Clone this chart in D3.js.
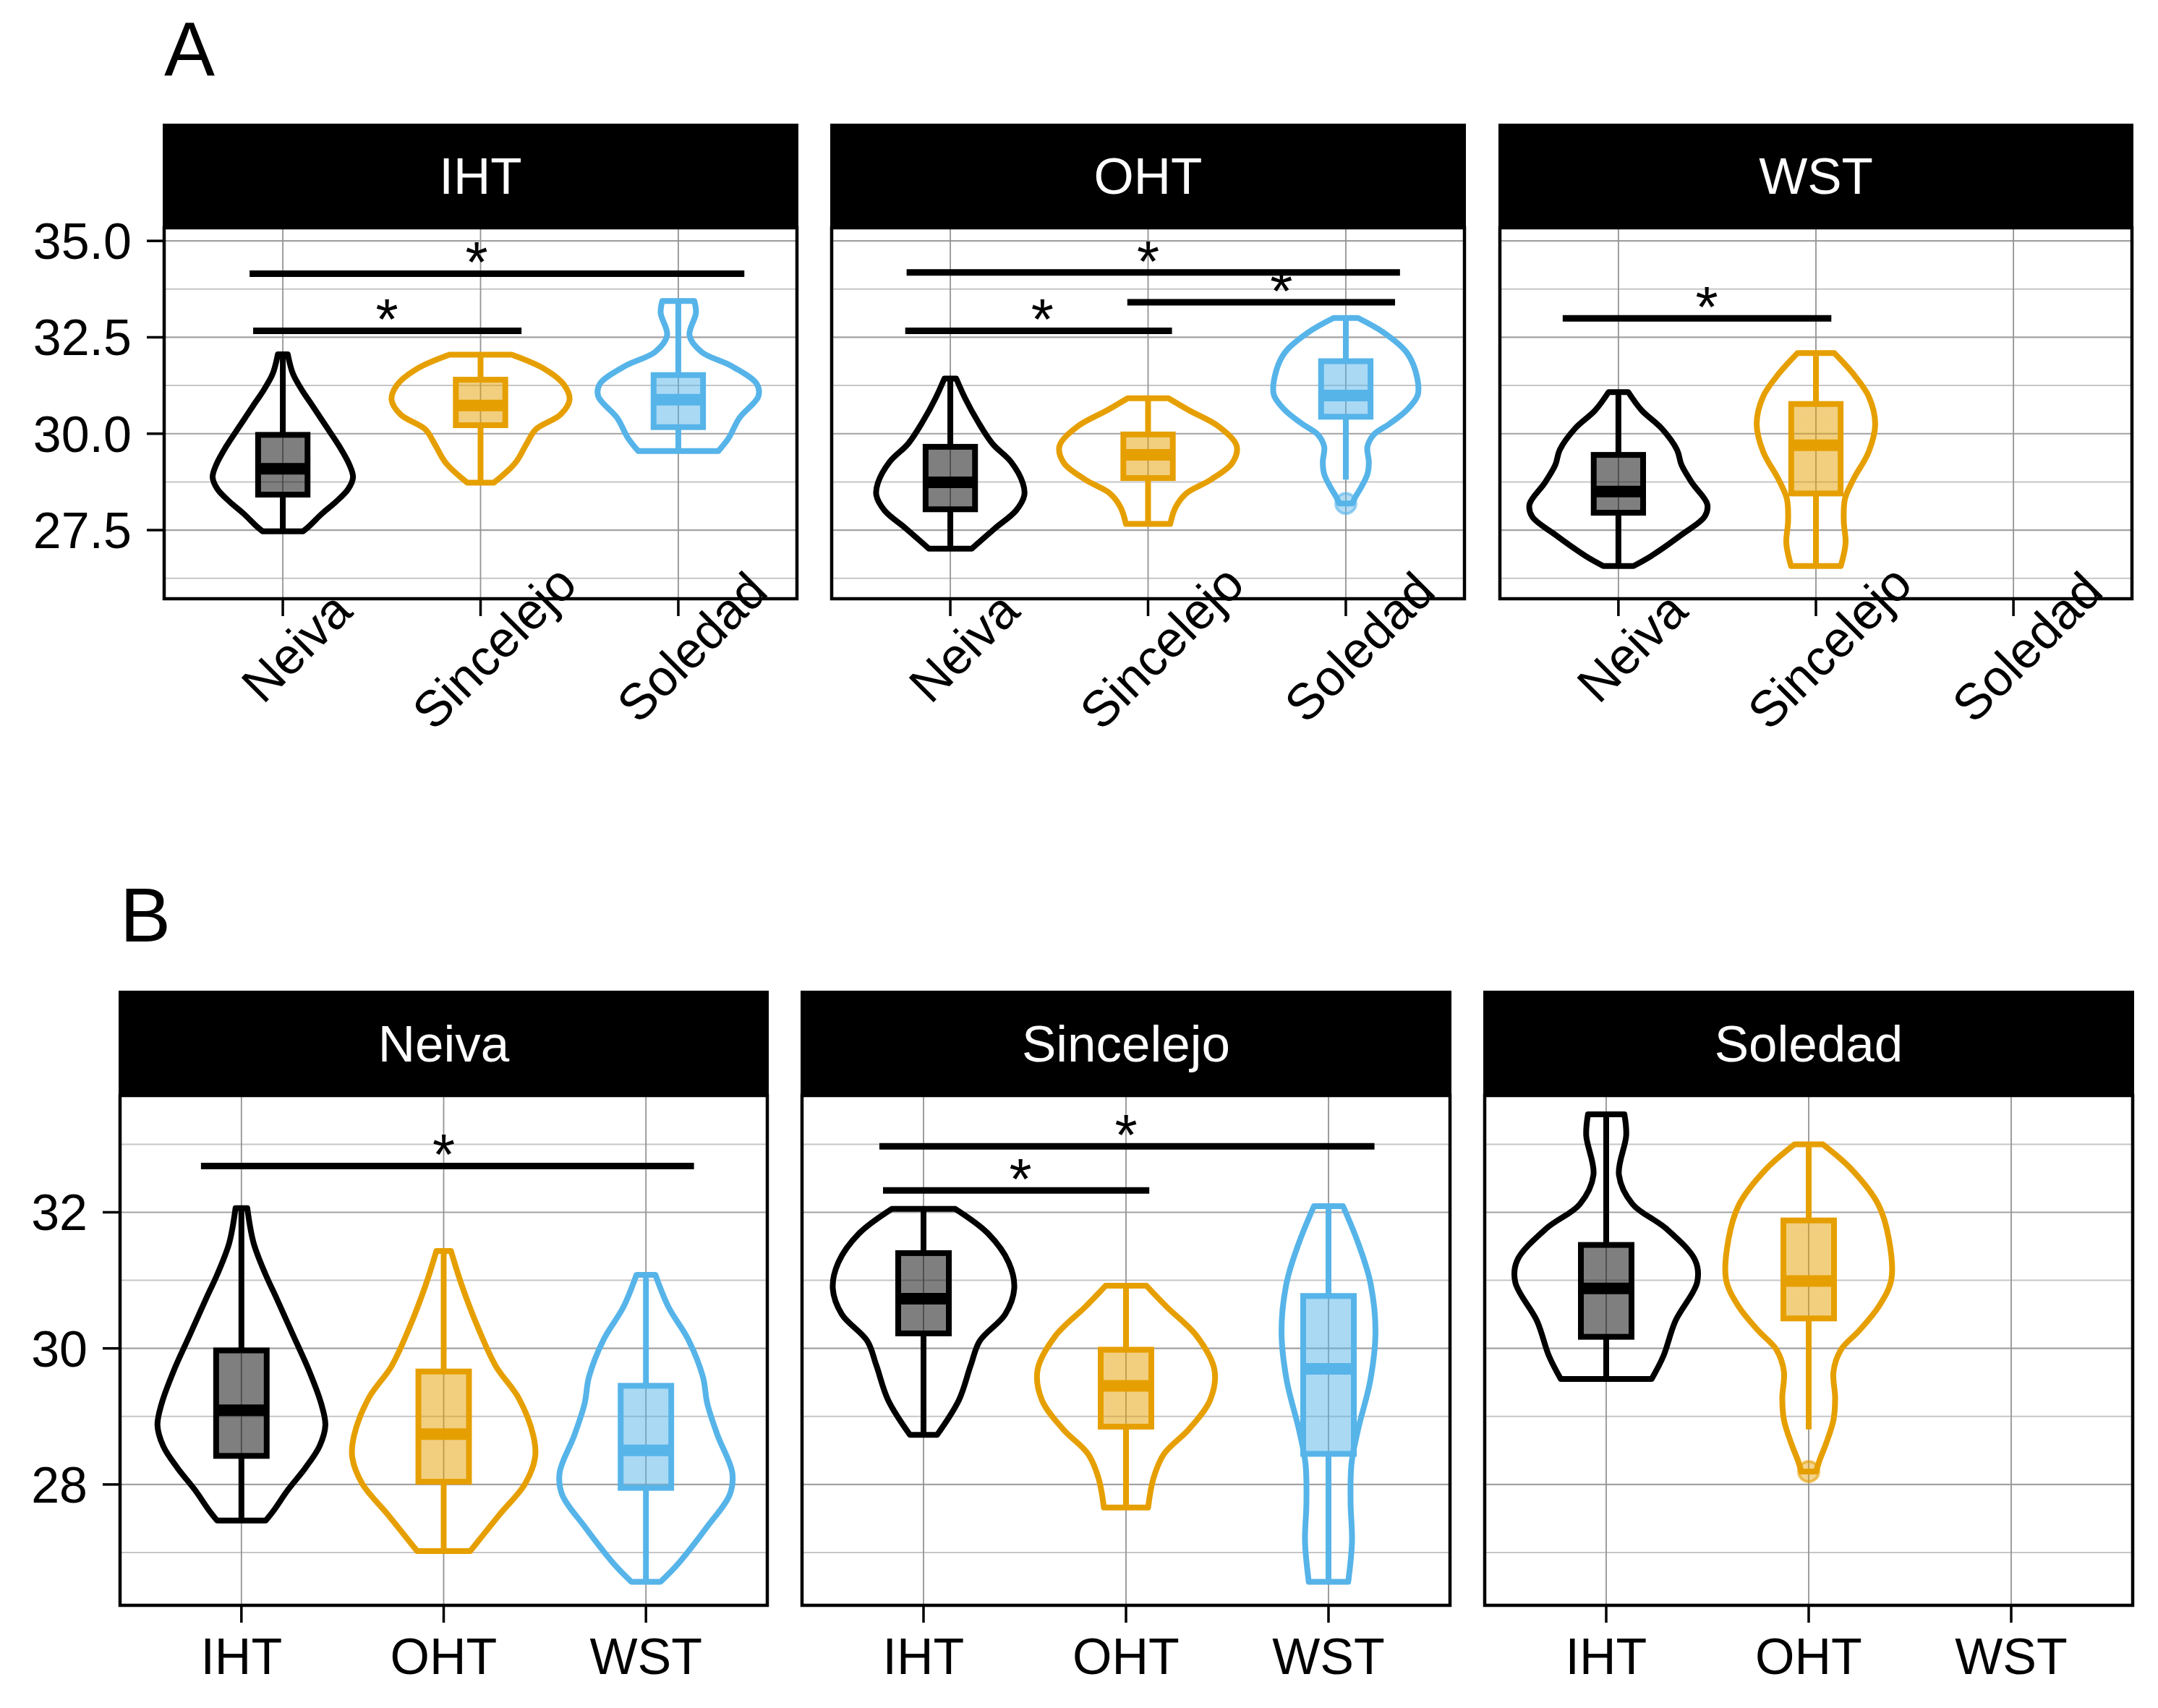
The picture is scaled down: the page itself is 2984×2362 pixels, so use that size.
<!DOCTYPE html>
<html>
<head>
<meta charset="utf-8">
<script src="https://cdn.jsdelivr.net/npm/d3@7"></script>
<style>
  html, body { margin: 0; padding: 0; background: #ffffff; }
  svg { display: block; }
  text { font-family: "Liberation Sans", Arial, Helvetica, sans-serif; }
</style>
</head>
<body>
<svg id="chart" width="2984" height="2362"></svg>
<script>
// ---------------- DATA ----------------
const sites = ["Neiva", "Sincelejo", "Soledad"];
const treatments = ["IHT", "OHT", "WST"];
const positionColours = ["#000000", "#E69F00", "#56B4E9"];

// one entry per violin (site x treatment); Soledad-WST has no data
const groupSite      = ["Neiva", "Neiva", "Neiva", "Sincelejo", "Sincelejo", "Sincelejo", "Soledad", "Soledad"];
const groupTreatment = ["IHT",   "OHT",   "WST",   "IHT",       "OHT",       "WST",       "IHT",     "OHT"];

const boxLower    = [27.47, 27.02, 26.57, 28.74, 27.66, 26.57, 29.55, 28.81];
const boxQ1       = [28.42, 28.04, 27.95, 30.22, 28.85, 28.45, 30.17, 30.44];
const boxMedian   = [29.09, 28.74, 28.50, 30.73, 29.45, 29.70, 30.88, 30.99];
const boxQ3       = [29.97, 29.66, 29.45, 31.40, 29.98, 30.77, 31.52, 31.88];
const boxUpper    = [32.06, 31.43, 31.08, 32.05, 30.92, 32.09, 33.44, 33.00];
const boxOutliers = [[], [], [], [], [], [], [], [28.19]];

// violin outlines: values (°C) and relative density (1 = widest)
const densityValues = [
  [32.06, 31.55, 31.08, 30.76, 30.21, 29.66, 29.19, 28.87, 28.56, 28.24, 27.93, 27.61, 27.47],
  [31.43, 30.92, 30.29, 29.74, 29.27, 28.72, 28.40, 28.01, 27.54, 27.02],
  [31.08, 30.61, 30.13, 29.58, 29.19, 28.72, 28.17, 27.85, 27.38, 26.83, 26.57],
  [32.05, 31.69, 31.26, 30.88, 30.50, 30.11, 29.75, 29.24, 28.73],
  [30.92, 30.61, 30.18, 29.68, 29.24, 28.81, 28.45, 28.09, 27.66],
  [32.09, 31.55, 30.97, 30.25, 29.53, 28.81, 28.31, 27.73, 27.16, 26.57],
  [33.44, 33.13, 32.55, 32.12, 31.76, 31.29, 30.97, 30.40, 29.89, 29.55],
  [33.00, 32.63, 32.12, 31.61, 31.01, 30.62, 30.26, 29.98, 29.66, 29.27, 28.95, 28.60, 28.35, 28.19]
];
const densityRelative = [
  [0.07, 0.145, 0.29, 0.41, 0.61, 0.81, 0.95, 1.0, 0.93, 0.76, 0.56, 0.38, 0.29],
  [0.08, 0.20, 0.38, 0.57, 0.82, 0.98, 1.0, 0.89, 0.60, 0.29],
  [0.11, 0.26, 0.49, 0.66, 0.71, 0.83, 1.0, 0.97, 0.71, 0.37, 0.17],
  [0.35, 0.71, 0.94, 1.0, 0.90, 0.62, 0.52, 0.39, 0.15],
  [0.23, 0.46, 0.80, 1.0, 0.95, 0.71, 0.43, 0.31, 0.25],
  [0.31, 0.63, 0.89, 1.0, 0.89, 0.63, 0.49, 0.47, 0.50, 0.42],
  [0.20, 0.22, 0.14, 0.29, 0.66, 0.98, 1.0, 0.76, 0.63, 0.50],
  [0.17, 0.52, 0.84, 0.97, 1.0, 0.85, 0.61, 0.39, 0.30, 0.32, 0.30, 0.21, 0.13, 0.09]
];
// widest half-width of each violin, in x-category units, for plot A and plot B
const violinHalfWidthA = [0.355, 0.374, 0.45, 0.45, 0.448, 0.30, 0.405, 0.364];
const violinHalfWidthB = [0.415, 0.452, 0.427, 0.448, 0.437, 0.232, 0.449, 0.408];

// significance brackets (x in category units from the first category)
const sigPlot   = ["A", "A", "A", "A", "A", "A", "B", "B", "B"];
const sigFacet  = ["IHT", "IHT", "OHT", "OHT", "OHT", "WST", "Neiva", "Sincelejo", "Sincelejo"];
const sigStart  = [-0.168, -0.15, -0.221, 0.895, -0.228, -0.282, -0.2, -0.218, -0.2];
const sigEnd    = [2.334, 1.207, 2.274, 2.249, 1.121, 1.078, 2.2375, 2.227, 1.115];
const sigY      = [34.15, 32.67, 34.18, 33.41, 32.67, 32.99, 32.68, 32.97, 32.32];
const sigLabelX = [0.98, 0.527, 1.0, 1.674, 0.465, 0.447, 1.0, 1.0, 0.479];
const sigLabel  = ["*", "*", "*", "*", "*", "*", "*", "*", "*"];

// axis ticks
const yTicksA  = [27.5, 30.0, 32.5, 35.0];
const yLabelsA = ["27.5", "30.0", "32.5", "35.0"];
const yMinorA  = [26.25, 28.75, 31.25, 33.75];
const yTicksB  = [28, 30, 32];
const yLabelsB = ["28", "30", "32"];
const yMinorB  = [27, 29, 31, 33];

// ---------------- LAYOUT ----------------
const svg = d3.select("#chart");
const FONT_TICK = 70, FONT_STRIP = 71, FONT_TAG = 105, FONT_STAR = 80;
const LW_VIOLIN = 8, LW_BOX = 8, LW_WHISKER = 8, LW_MEDIAN = 16, LW_SIG = 9;

const plots = [
  {
    tag: "A", tagX: 227, tagY: 104,
    facets: treatments, cats: sites,
    pick: (facet, cat) => groupTreatment.map((t, i) => (t === facet && groupSite[i] === cat) ? i : -1).filter(i => i >= 0)[0],
    panels: [[227, 1102], [1150, 2025], [2074, 2948]],
    stripTop: 171, top: 315, bottom: 828,
    yDomain: [25.72, 35.34],
    yTicks: yTicksA, yLabels: yLabelsA, yMinor: yMinorA,
    widths: violinHalfWidthA, rotated: true
  },
  {
    tag: "B", tagX: 166, tagY: 1302,
    facets: sites, cats: treatments,
    pick: (facet, cat) => groupSite.map((s, i) => (s === facet && groupTreatment[i] === cat) ? i : -1).filter(i => i >= 0)[0],
    panels: [[166, 1061], [1109, 2005], [2053, 2949]],
    stripTop: 1370, top: 1515, bottom: 2220,
    yDomain: [26.224, 33.716],
    yTicks: yTicksB, yLabels: yLabelsB, yMinor: yMinorB,
    widths: violinHalfWidthB, rotated: false
  }
];

plots.forEach(p => {
  const y = d3.scaleLinear().domain(p.yDomain).range([p.bottom, p.top]);

  svg.append("text")
    .attr("x", p.tagX).attr("y", p.tagY)
    .attr("font-size", FONT_TAG).attr("fill", "#000")
    .text(p.tag);

  p.facets.forEach((facet, fi) => {
    const [left, right] = p.panels[fi];
    const x = d3.scalePoint().domain(p.cats).range([left, right]).padding(0.6);
    const step = x.step();
    const x0 = x(p.cats[0]);
    const g = svg.append("g");

    g.append("rect").attr("x", left).attr("y", p.top)
      .attr("width", right - left).attr("height", p.bottom - p.top)
      .attr("fill", "#fff");

    // grid
    g.selectAll(".minor").data(p.yMinor).enter().append("line")
      .attr("x1", left).attr("x2", right)
      .attr("y1", d => y(d)).attr("y2", d => y(d))
      .attr("stroke", "#c6c6c6").attr("stroke-width", 2);
    g.selectAll(".major").data(p.yTicks).enter().append("line")
      .attr("x1", left).attr("x2", right)
      .attr("y1", d => y(d)).attr("y2", d => y(d))
      .attr("stroke", "#a2a2a2").attr("stroke-width", 2.2);
    g.selectAll(".vmajor").data(p.cats).enter().append("line")
      .attr("x1", d => x(d)).attr("x2", d => x(d))
      .attr("y1", p.top).attr("y2", p.bottom)
      .attr("stroke", "#949494").attr("stroke-width", 1.8);

    // violins + boxes
    p.cats.forEach((cat, ci) => {
      const gi = p.pick(facet, cat);
      if (gi === undefined) return;
      const col = positionColours[ci];
      const cx = x(cat);
      const W = p.widths[gi] * step;
      const pts = densityValues[gi].map((v, k) => [v, densityRelative[gi][k]]);

      const area = d3.area()
        .curve(d3.curveCatmullRom.alpha(0.5))
        .y(d => y(d[0]))
        .x0(d => cx - d[1] * W)
        .x1(d => cx + d[1] * W);
      g.append("path").attr("d", area(pts))
        .attr("fill", "none").attr("stroke", col)
        .attr("stroke-width", LW_VIOLIN).attr("stroke-linejoin", "round");

      const bw = 0.25 * step;
      g.append("line").attr("x1", cx).attr("x2", cx)
        .attr("y1", y(boxUpper[gi])).attr("y2", y(boxQ3[gi]))
        .attr("stroke", col).attr("stroke-width", LW_WHISKER);
      g.append("line").attr("x1", cx).attr("x2", cx)
        .attr("y1", y(boxQ1[gi])).attr("y2", y(boxLower[gi]))
        .attr("stroke", col).attr("stroke-width", LW_WHISKER);
      g.append("rect")
        .attr("x", cx - bw / 2).attr("width", bw)
        .attr("y", y(boxQ3[gi])).attr("height", y(boxQ1[gi]) - y(boxQ3[gi]))
        .attr("fill", col).attr("fill-opacity", 0.5)
        .attr("stroke", col).attr("stroke-width", LW_BOX);
      g.append("line")
        .attr("x1", cx - bw / 2).attr("x2", cx + bw / 2)
        .attr("y1", y(boxMedian[gi])).attr("y2", y(boxMedian[gi]))
        .attr("stroke", col).attr("stroke-width", LW_MEDIAN);
      boxOutliers[gi].forEach(o => {
        g.append("circle").attr("cx", cx).attr("cy", y(o)).attr("r", 14)
          .attr("fill", col).attr("fill-opacity", 0.45)
          .attr("stroke", col).attr("stroke-opacity", 0.6).attr("stroke-width", 4);
      });
    });

    // significance bars
    sigPlot.forEach((sp, si) => {
      if (sp !== p.tag || sigFacet[si] !== facet) return;
      g.append("line")
        .attr("x1", x0 + sigStart[si] * step).attr("x2", x0 + sigEnd[si] * step)
        .attr("y1", y(sigY[si])).attr("y2", y(sigY[si]))
        .attr("stroke", "#000").attr("stroke-width", LW_SIG);
      g.append("text")
        .attr("x", x0 + sigLabelX[si] * step).attr("y", y(sigY[si]) + 12)
        .attr("text-anchor", "middle").attr("font-size", FONT_STAR)
        .attr("fill", "#000").text(sigLabel[si]);
    });

    // panel border
    g.append("rect").attr("x", left).attr("y", p.top)
      .attr("width", right - left).attr("height", p.bottom - p.top)
      .attr("fill", "none").attr("stroke", "#000").attr("stroke-width", 4.5);

    // strip
    g.append("rect").attr("x", left - 2).attr("y", p.stripTop)
      .attr("width", right - left + 4).attr("height", p.top - p.stripTop)
      .attr("fill", "#000");
    g.append("text")
      .attr("x", (left + right) / 2).attr("y", (p.stripTop + p.top) / 2 + 25)
      .attr("text-anchor", "middle").attr("font-size", FONT_STRIP)
      .attr("fill", "#fff").text(facet);

    // x axis ticks + labels
    g.selectAll(".xt").data(p.cats).enter().append("line")
      .attr("x1", d => x(d)).attr("x2", d => x(d))
      .attr("y1", p.bottom).attr("y2", p.bottom + 24)
      .attr("stroke", "#000").attr("stroke-width", 3.5);
    if (p.rotated) {
      g.selectAll(".xl").data(p.cats).enter().append("text")
        .attr("transform", d => `translate(${x(d) + 36},${p.bottom + 84}) rotate(-45)`)
        .attr("text-anchor", "middle").attr("font-size", FONT_TICK)
        .attr("fill", "#000").text(d => d);
    } else {
      g.selectAll(".xl").data(p.cats).enter().append("text")
        .attr("x", d => x(d)).attr("y", p.bottom + 95)
        .attr("text-anchor", "middle").attr("font-size", FONT_TICK)
        .attr("fill", "#000").text(d => d);
    }

    // y axis on first panel only
    if (fi === 0) {
      g.selectAll(".yt").data(p.yTicks).enter().append("line")
        .attr("x1", left - 24).attr("x2", left)
        .attr("y1", d => y(d)).attr("y2", d => y(d))
        .attr("stroke", "#000").attr("stroke-width", 3.5);
      g.selectAll(".yl").data(p.yTicks).enter().append("text")
        .attr("x", left - 45).attr("y", d => y(d) + 25)
        .attr("text-anchor", "end").attr("font-size", FONT_TICK)
        .attr("fill", "#000").text((d, k) => p.yLabels[k]);
    }
  });
});
</script>
</body>
</html>
